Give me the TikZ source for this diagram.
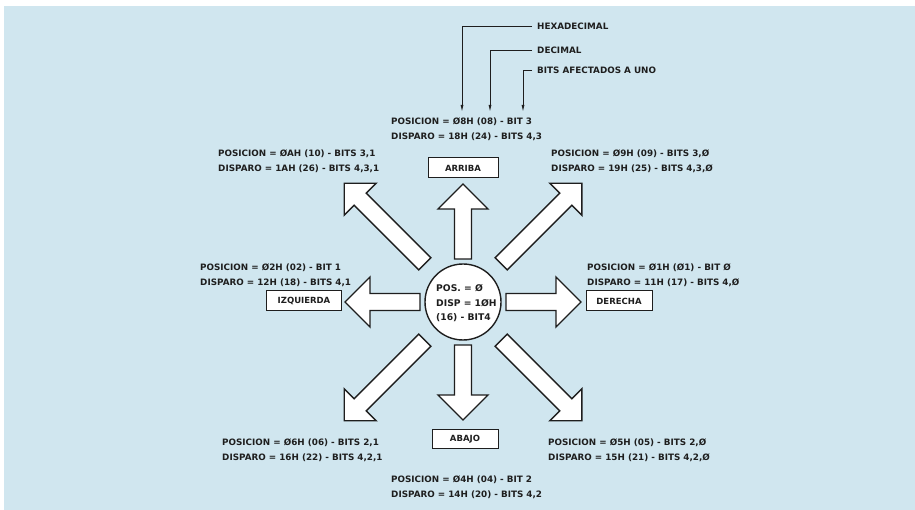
\documentclass[tikz,border=0pt]{standalone}
\usepackage{fontspec}
\setmainfont{DejaVu Sans}
\usetikzlibrary{arrows.meta}
\definecolor{bgblue}{HTML}{D0E6EF}
\definecolor{ink}{HTML}{1E1E1E}
\newcommand\mylines[2]{\vtop{\baselineskip=15pt\hbox{#1}\hbox{#2}}}
\tikzset{
  arrowshape/.style={draw=ink,fill=white,line width=1.4pt,line join=miter},
  straightarrow/.pic={\draw[arrowshape] (43,-8.5) -- (93,-8.5) -- (93,-25) -- (118,0) -- (93,25) -- (93,8.5) -- (43,8.5) -- cycle;},
  diagarrow/.pic={\draw[arrowshape] (54,-8.5) -- (145.4,-8.5) -- (145.4,-22.6) -- (168,0) -- (145.4,22.6) -- (145.4,8.5) -- (54,8.5) -- cycle;},
  dirbox/.style={draw=ink,fill=white,line width=1pt,inner sep=0pt,font=\fontsize{8.5}{10}\selectfont\bfseries,text=ink},
  lbl/.style={anchor=base west,inner sep=0pt,text=ink,font=\fontsize{8.8}{15}\selectfont\bfseries},
  callout/.style={draw=ink,line width=0.9pt,-{Latex[length=7pt,width=3pt]}},
}
\begin{document}
\begin{tikzpicture}[x=1pt,y=-1pt]
\fill[white] (0,0) rectangle (915,510);
\fill[bgblue] (4,6) rectangle (915,510);
\useasboundingbox (0,0) rectangle (915,510);

% arrows
\coordinate (c) at (463,302);
\foreach \a in {0,90,180,270} \pic[rotate=\a] at (c) {straightarrow};
\foreach \a in {45,135,225,315} \pic[rotate=\a] at (c) {diagarrow};

% centre
\node[circle,draw=ink,fill=white,line width=1.4pt,minimum size=76pt,inner sep=0pt] (centre) at (c) {};
\node[lbl,font=\fontsize{9.2}{14}\selectfont\bfseries] (ctext) at (436,292) {\vtop{\baselineskip=14.5pt\hbox{POS. = Ø}\hbox{DISP = 1ØH}\hbox{(16) - BIT4}}};

% direction boxes
\node[dirbox,minimum width=70pt,minimum height=20pt] (arriba) at (463,168) {ARRIBA};
\node[dirbox,minimum width=75pt,minimum height=20pt] (izq) at (304,301) {IZQUIERDA};
\node[dirbox,minimum width=66pt,minimum height=20pt] (der) at (619,301) {DERECHA};
\node[dirbox,minimum width=66pt,minimum height=19pt] (abajo) at (465,439) {ABAJO};

% labels
\node[lbl] (lt) at (391,125) {\mylines{POSICION = Ø8H (08) - BIT 3}{DISPARO = 18H (24) - BITS 4,3}};
\node[lbl] (lul) at (218,157) {\mylines{POSICION = ØAH (10) - BITS 3,1}{DISPARO = 1AH (26) - BITS 4,3,1}};
\node[lbl] (lur) at (551,157) {\mylines{POSICION = Ø9H (09) - BITS 3,Ø}{DISPARO = 19H (25) - BITS 4,3,Ø}};
\node[lbl] (ll) at (200,271) {\mylines{POSICION = Ø2H (02) - BIT 1}{DISPARO = 12H (18) - BITS 4,1}};
\node[lbl] (lr) at (587,271) {\mylines{POSICION = Ø1H (Ø1) - BIT Ø}{DISPARO = 11H (17) - BITS 4,Ø}};
\node[lbl] (lll) at (222,445) {\mylines{POSICION = Ø6H (06) - BITS 2,1}{DISPARO = 16H (22) - BITS 4,2,1}};
\node[lbl] (llr) at (548,445) {\mylines{POSICION = Ø5H (05) - BITS 2,Ø}{DISPARO = 15H (21) - BITS 4,2,Ø}};
\node[lbl] (lb) at (391,482) {\mylines{POSICION = Ø4H (04) - BIT 2}{DISPARO = 14H (20) - BITS 4,2}};

% callouts
\node[lbl,anchor=west] (hex) at (537,26) {HEXADECIMAL};
\node[lbl,anchor=west] (dec) at (537,50) {DECIMAL};
\node[lbl,anchor=west] (bits) at (537,70) {BITS AFECTADOS A UNO};
\coordinate (ta) at (462,112);
\coordinate (tb) at (490,112);
\coordinate (tc) at (523,112);
\draw[callout] ([xshift=-5pt]hex.west) -| (ta);
\draw[callout] ([xshift=-5pt]dec.west) -| (tb);
\draw[callout] ([xshift=-5pt]bits.west) -| (tc);
\end{tikzpicture}
\end{document}
